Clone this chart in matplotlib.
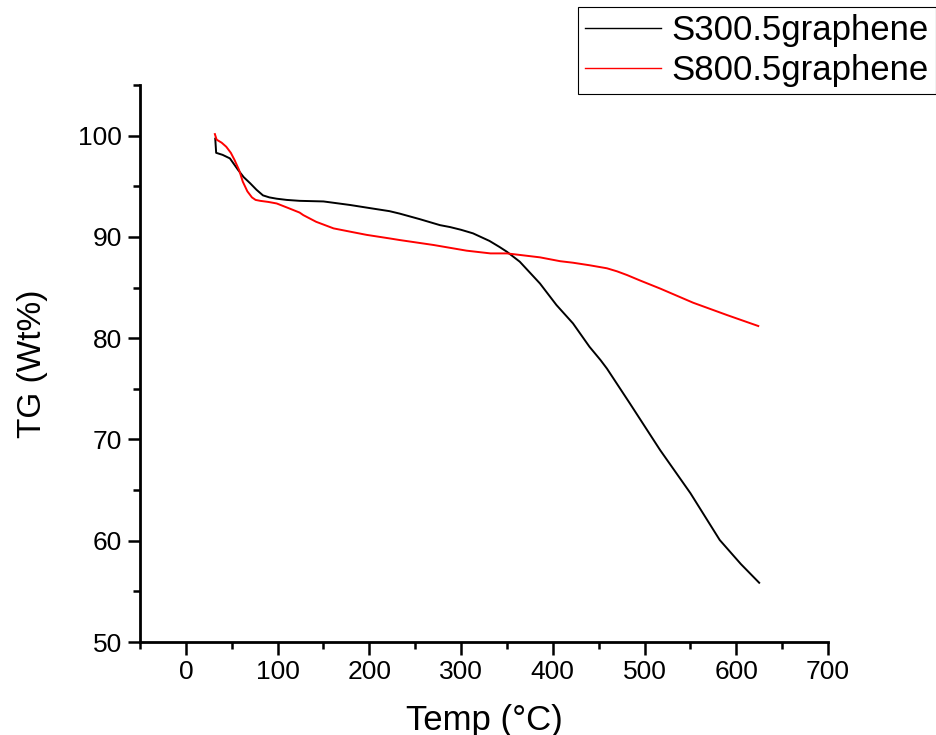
import matplotlib.pyplot as plt
from matplotlib.ticker import MultipleLocator

plt.rcParams['font.family'] = ['Liberation Sans', 'DejaVu Sans']

# S300.5graphene (black)
t300 = [32, 33, 40, 48, 57, 63, 70, 77, 84, 91, 99, 110, 124, 150, 179, 200,
        222, 233, 255, 277, 288, 300, 313, 331, 342, 350, 364, 386, 404, 422,
        440, 452, 459, 484, 517, 550, 582, 605, 625]
w300 = [99.7, 98.3, 98.1, 97.75, 96.6, 95.9, 95.3, 94.65, 94.1, 93.9, 93.77,
        93.65, 93.56, 93.5, 93.15, 92.85, 92.54, 92.3, 91.75, 91.16, 90.97,
        90.7, 90.35, 89.6, 89.0, 88.53, 87.55, 85.4, 83.27, 81.46, 79.15,
        77.84, 77.0, 73.56, 68.95, 64.7, 60.07, 57.7, 55.85]

# S800.5graphene (red)
t800 = [31.6, 33.5, 39, 44, 49, 53, 58, 62, 67, 72, 76, 81, 90, 99, 113, 124,
        128, 142, 161, 180, 197, 222, 233, 270, 306, 332, 350, 386, 408, 422,
        440, 459, 470, 481, 495, 517, 553, 590, 624]
w800 = [100.15, 99.6, 99.3, 98.9, 98.3, 97.6, 96.6, 95.46, 94.5, 93.9, 93.65,
        93.56, 93.45, 93.3, 92.8, 92.4, 92.15, 91.49, 90.84, 90.5, 90.2, 89.85,
        89.69, 89.2, 88.64, 88.37, 88.37, 87.98, 87.6, 87.45, 87.2, 86.9, 86.6,
        86.23, 85.7, 84.9, 83.5, 82.28, 81.2]

fig = plt.figure(figsize=(9.36, 7.35), dpi=100)
ax = fig.add_axes([0.1496, 0.1265, 0.735, 0.7579])

ax.plot(t300, w300, color='black', lw=1.4, label='S300.5graphene')
ax.plot(t800, w800, color='red', lw=1.4, label='S800.5graphene')

ax.set_xlim(-50, 700)
ax.set_ylim(50, 105)
ax.xaxis.set_major_locator(MultipleLocator(100))
ax.xaxis.set_minor_locator(MultipleLocator(50))
ax.yaxis.set_major_locator(MultipleLocator(10))
ax.yaxis.set_minor_locator(MultipleLocator(5))
ax.set_xticks([0, 100, 200, 300, 400, 500, 600, 700])
ax.set_yticks([50, 60, 70, 80, 90, 100])

for s in ['top', 'right']:
    ax.spines[s].set_visible(False)
for s in ['left', 'bottom']:
    ax.spines[s].set_linewidth(2)

ax.tick_params(which='major', direction='out', length=9, width=1.8,
               labelsize=19, pad=4)
ax.tick_params(which='minor', direction='out', length=5, width=1.8)

ax.set_xlabel('Temp (°C)', fontsize=25, labelpad=14)
ax.set_ylabel('TG (Wt%)', fontsize=24, labelpad=22)

leg = fig.legend(loc='upper right', bbox_to_anchor=(1.0, 0.99),
                 fontsize=25, frameon=True, fancybox=False, edgecolor='black',
                 framealpha=1, borderaxespad=0, handlelength=2.2,
                 labelspacing=0.2, borderpad=0.2, handletextpad=0.3)
leg.get_frame().set_linewidth(0.8)
for line in leg.get_lines():
    line.set_linewidth(1.0)

fig.savefig('out.png', dpi=100)
